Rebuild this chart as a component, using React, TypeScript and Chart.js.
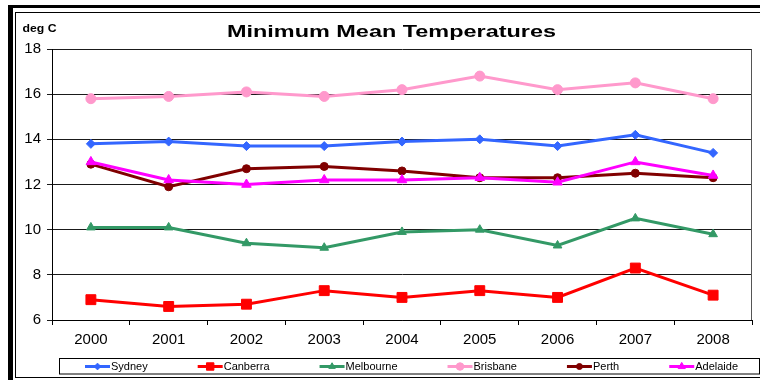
import React, { useEffect, useRef } from 'react';
import { Chart, registerables } from 'chart.js';
import { drawPoint } from 'chart.js/helpers';

Chart.register(...registerables);

// ---- data ----
const years = ['2000', '2001', '2002', '2003', '2004', '2005', '2006', '2007', '2008'];
const sydney = [13.8, 13.9, 13.7, 13.7, 13.9, 14.0, 13.7, 14.2, 13.4];
const canberra = [6.9, 6.6, 6.7, 7.3, 7.0, 7.3, 7.0, 8.3, 7.1];
const melbourne = [10.1, 10.1, 9.4, 9.2, 9.9, 10.0, 9.3, 10.5, 9.8];
const brisbane = [15.8, 15.9, 16.1, 15.9, 16.2, 16.8, 16.2, 16.5, 15.8];
const perth = [12.9, 11.9, 12.7, 12.8, 12.6, 12.3, 12.3, 12.5, 12.3];
const adelaide = [13.0, 12.2, 12.0, 12.2, 12.2, 12.3, 12.1, 13.0, 12.4];
const yTicks = [6, 8, 10, 12, 14, 16, 18];
const titleText = 'Minimum Mean Temperatures';
const unitText = 'deg C';

// ---- series styling ----
const seriesNames = ['Sydney', 'Canberra', 'Melbourne', 'Brisbane', 'Perth', 'Adelaide'];
const seriesValues = [sydney, canberra, melbourne, brisbane, perth, adelaide];
const seriesColors = ['#3366FF', '#FF0000', '#339966', '#FF99CC', '#800000', '#FF00FF'];
const seriesMarkers = ['rectRot', 'rect', 'triangle', 'circle', 'circle', 'triangle'];
const seriesRadii = [4.5, 7, 5, 5, 4, 5.5];

const FONT = '"Liberation Sans", Arial, Helvetica, sans-serif';

const decorPlugin = {
  id: 'decor',
  beforeDraw(chart: any) {
    const ctx = chart.ctx;
    const W = chart.width;
    const H = chart.height;
    ctx.save();
    ctx.fillStyle = '#ffffff';
    ctx.fillRect(0, 0, W, H);

    // outer heavy frame (top and left) and thin chart-area frame
    ctx.fillStyle = '#000000';
    ctx.fillRect(8, 5, W - 8, 3);
    ctx.fillRect(8, 5, 5, H - 5);
    ctx.strokeStyle = '#000000';
    ctx.lineWidth = 1;
    ctx.strokeRect(15.5, 12.5, W + 10, H - 15);

    // title
    ctx.fillStyle = '#000000';
    ctx.font = `bold 17px ${FONT}`;
    const tw = ctx.measureText(titleText).width;
    ctx.save();
    ctx.translate(391.5, 36.5);
    ctx.scale(329 / tw, 1);
    ctx.textAlign = 'center';
    ctx.textBaseline = 'alphabetic';
    ctx.fillText(titleText, 0, 0);
    ctx.restore();

    // unit label
    ctx.font = `bold 10px ${FONT}`;
    const uw = ctx.measureText(unitText).width;
    ctx.save();
    ctx.translate(22.5, 32);
    ctx.scale(34 / uw, 1);
    ctx.textAlign = 'left';
    ctx.textBaseline = 'alphabetic';
    ctx.fillText(unitText, 0, 0);
    ctx.restore();
    ctx.restore();
  },
  afterDraw(chart: any) {
    const ctx = chart.ctx;
    const area = chart.chartArea;
    ctx.save();

    // right edge of the plot frame
    ctx.strokeStyle = '#555555';
    ctx.lineWidth = 1;
    const rx = Math.round(area.right) - 0.5;
    ctx.beginPath();
    ctx.moveTo(rx, Math.round(area.top) + 0.5);
    ctx.lineTo(rx, Math.round(area.bottom));
    ctx.stroke();

    // legend box
    ctx.strokeStyle = '#000000';
    ctx.strokeRect(59.5, 358.5, 700, 15.5);

    // legend entries: line sample with marker, then name
    ctx.font = `11px ${FONT}`;
    ctx.textBaseline = 'middle';
    ctx.textAlign = 'left';
    const ly = 366.5;
    let x = 85;
    chart.data.datasets.forEach((ds: any) => {
      ctx.strokeStyle = ds.borderColor;
      ctx.lineWidth = 3;
      ctx.beginPath();
      ctx.moveTo(x, ly);
      ctx.lineTo(x + 25, ly);
      ctx.stroke();
      ctx.fillStyle = ds.pointBackgroundColor;
      ctx.strokeStyle = ds.pointBorderColor;
      ctx.lineWidth = 1;
      drawPoint(ctx, {
        pointStyle: ds.pointStyle,
        radius: ds.pointRadius * 0.75,
        borderWidth: 1,
        rotation: 0,
      }, x + 12.5, ly);
      ctx.fillStyle = '#000000';
      const tx = x + 26;
      ctx.fillText(ds.label, tx, ly);
      x = tx + ctx.measureText(ds.label).width + 50;
    });
    ctx.restore();
  },
};

export default function App() {
  const canvasRef = useRef<HTMLCanvasElement | null>(null);

  useEffect(() => {
    const canvas = canvasRef.current;
    if (!canvas) return;
    const datasets = seriesNames.map((name, i) => ({
      label: name,
      data: seriesValues[i],
      borderColor: seriesColors[i],
      backgroundColor: seriesColors[i],
      pointBackgroundColor: seriesColors[i],
      pointBorderColor: seriesColors[i],
      pointStyle: seriesMarkers[i],
      pointRadius: seriesRadii[i],
      pointBorderWidth: 1,
      borderWidth: 3,
      tension: 0,
      fill: false,
      order: seriesNames.length - i,
    }));

    const chart = new Chart(canvas, {
      type: 'line',
      data: { labels: years, datasets },
      options: {
        animation: false,
        responsive: false,
        maintainAspectRatio: false,
        devicePixelRatio: 1,
        layout: { padding: { top: 49, right: 4, bottom: 0, left: 0 } },
        plugins: {
          legend: { display: false },
          title: { display: false },
          tooltip: { enabled: false },
        },
        scales: {
          x: {
            offset: true,
            grid: {
              offset: true,
              drawOnChartArea: false,
              drawTicks: true,
              tickLength: 5,
              color: '#000000',
            },
            border: { display: true, color: '#000000', width: 1 },
            ticks: {
              color: '#000000',
              font: { family: FONT, size: 15 },
              padding: 6,
              maxRotation: 0,
              autoSkip: false,
            },
            afterFit(scale: any) {
              scale.height = 60;
            },
          },
          y: {
            min: 6,
            max: 18,
            grid: {
              color: '#1a1a1a',
              tickLength: 5,
              drawTicks: true,
            },
            border: { display: true, color: '#000000', width: 1 },
            ticks: {
              color: '#000000',
              font: { family: FONT, size: 15 },
              padding: 6,
            },
            afterBuildTicks(scale: any) {
              scale.ticks = yTicks.map((v) => ({ value: v }));
            },
            afterFit(scale: any) {
              scale.width = 52;
            },
          },
        },
      },
      plugins: [decorPlugin],
    });

    return () => {
      chart.destroy();
    };
  }, []);

  return (
    <div style={{ position: 'fixed', left: 0, top: 0, width: 760, height: 380, background: '#ffffff' }}>
      <canvas ref={canvasRef} width={760} height={380} style={{ width: 760, height: 380, display: 'block' }} />
    </div>
  );
}
